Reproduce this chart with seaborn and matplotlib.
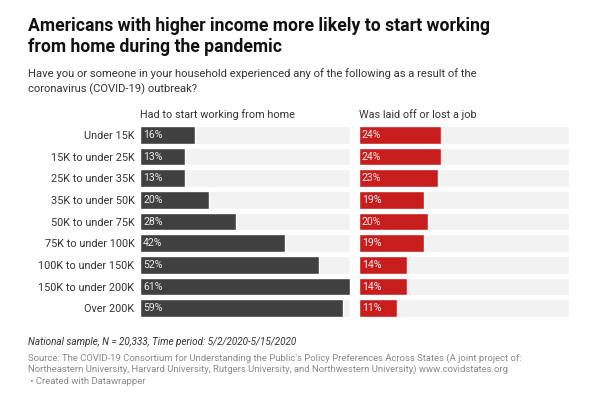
import matplotlib
import matplotlib.pyplot as plt
import pandas as pd
import seaborn as sns

matplotlib.use("Agg")

categories = [
    "Under 15K", "15K to under 25K", "25K to under 35K", "35K to under 50K",
    "50K to under 75K", "75K to under 100K", "100K to under 150K",
    "150K to under 200K", "Over 200K",
]
work_from_home = [16, 13, 13, 20, 28, 42, 52, 61, 59]
laid_off = [24, 24, 23, 19, 20, 19, 14, 14, 11]
panel_titles = ["Had to start working from home", "Was laid off or lost a job"]
scale_max = 61

sns.set_theme(style="white")
plt.rcParams["font.family"] = ["Roboto", "DejaVu Sans"]

fig = plt.figure(figsize=(5.9, 3.98), dpi=100)
fig.patch.set_facecolor("white")

panels = [
    (work_from_home, "#404040", [0.2373, 0.1985, 0.356, 0.4897]),
    (laid_off, "#c71e1d", [0.608, 0.1985, 0.3565, 0.4897]),
]

for i, (values, color, rect) in enumerate(panels):
    ax = fig.add_axes(rect)
    df = pd.DataFrame({"cat": categories, "val": values, "bg": [scale_max] * len(categories)})
    sns.barplot(data=df, y="cat", x="bg", color="#f2f2f2", width=0.82, ax=ax, saturation=1)
    sns.barplot(data=df, y="cat", x="val", color=color, width=0.82, ax=ax, saturation=1)
    ax.set_xlim(0, scale_max)
    ax.set_xlabel("")
    ax.set_ylabel("")
    ax.set_xticks([])
    sns.despine(ax=ax, left=True, bottom=True)
    for j, v in enumerate(values):
        ax.text(0.9, j, f"{v}%", color="white", fontsize=7.6, va="center", ha="left", alpha=0.9)
    if i == 0:
        ax.tick_params(axis="y", length=0, pad=4, labelsize=7.8, labelcolor="#333333")
    else:
        ax.set_yticks([])
    ax.text(0, 1.02, panel_titles[i], transform=ax.transAxes, fontsize=7.8,
            color="#333333", ha="left", va="bottom")

fig.text(0.048, 0.958, "Americans with higher income more likely to start working\nfrom home during the pandemic",
         fontsize=12.7, fontweight="bold", color="#111111", ha="left", va="top", linespacing=1.2)
fig.text(0.048, 0.828, "Have you or someone in your household experienced any of the following as a result of the\ncoronavirus (COVID-19) outbreak?",
         fontsize=8.1, color="#333333", ha="left", va="top", linespacing=1.45)
fig.text(0.048, 0.14, "National sample, N = 20,333, Time period: 5/2/2020-5/15/2020",
         fontsize=7.1, style="italic", color="#333333", ha="left", va="center")
fig.text(0.048, 0.113, "Source: The COVID-19 Consortium for Understanding the Public's Policy Preferences Across States (A joint project of:\n"
         "Northeastern University, Harvard University, Rutgers University, and Northwestern University) www.covidstates.org\n"
         " \u2022 Created with Datawrapper",
         fontsize=6.8, color="#888888", ha="left", va="top", linespacing=1.3)

fig.savefig("out.png", dpi=100)
